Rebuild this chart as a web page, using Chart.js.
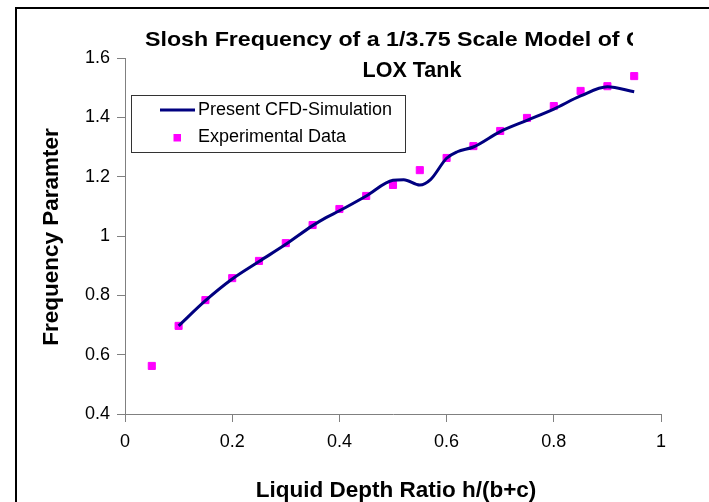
<!DOCTYPE html>
<html>
<head>
<meta charset="utf-8">
<script src="https://cdn.jsdelivr.net/npm/chart.js@4/dist/chart.umd.min.js"></script>
<style>
html,body{margin:0;padding:0;background:#fff;}
canvas{display:block;}
</style>
</head>
<body>
<canvas id="c" width="709" height="502" style="width:709px;height:502px"></canvas>
<script>
// Experimental data (squares)
const expX = [0.05,0.10,0.15,0.20,0.25,0.30,0.35,0.40,0.45,0.50,0.55,0.60,0.65,0.70,0.75,0.80,0.85,0.90,0.95];
const expY = [0.562,0.697,0.784,0.858,0.916,0.976,1.037,1.091,1.135,1.172,1.222,1.263,1.303,1.354,1.398,1.438,1.489,1.505,1.539];
// CFD simulation curve
const cfdX = [0.10,0.15,0.20,0.25,0.30,0.35,0.375,0.40,0.45,0.50,0.52,0.55,0.57,0.60,0.62,0.65,0.70,0.75,0.80,0.85,0.90,0.95];
const cfdY = [0.697,0.782,0.855,0.914,0.972,1.035,1.062,1.085,1.135,1.188,1.19,1.172,1.19,1.262,1.284,1.300,1.352,1.390,1.428,1.472,1.503,1.486];
// Axis ticks
const xTicks = [0,0.2,0.4,0.6,0.8,1];
const xTickLabels = ["0","0.2","0.4","0.6","0.8","1"];
const yTicks = [0.4,0.6,0.8,1.0,1.2,1.4,1.6];
const yTickLabels = ["0.4","0.6","0.8","1","1.2","1.4","1.6"];
// Texts
const titleLine1 = "Slosh Frequency of a 1/3.75 Scale Model of C";
const titleLine2 = "LOX Tank";
const xTitle = "Liquid Depth Ratio h/(b+c)";
const yTitle = "Frequency Paramter";
const seriesNames = ["Present CFD-Simulation","Experimental Data"];

const FONT = "'Liberation Sans', Arial, sans-serif";
const AXIS = '#808080';

function labelFor(v, ticks, labels){
  for (let i=0;i<ticks.length;i++){ if (Math.abs(ticks[i]-v)<1e-6) return labels[i]; }
  return '';
}

const deco = {
  id:'deco',
  afterDraw(chart){
    const ctx = chart.ctx;
    ctx.save();
    // outer frame
    ctx.strokeStyle = '#000'; ctx.lineWidth = 2;
    ctx.beginPath();
    ctx.moveTo(16, 520); ctx.lineTo(16, 8); ctx.lineTo(720, 8);
    ctx.stroke();
    // title line 1 (clipped on the right, as in the reference)
    ctx.fillStyle = '#000';
    ctx.font = "bold 21px " + FONT;
    ctx.textBaseline = 'middle';
    ctx.save();
    ctx.beginPath(); ctx.rect(0,0,633,60); ctx.clip();
    ctx.textAlign = 'left';
    const pre = titleLine1.slice(0, -1);
    const w = ctx.measureText(pre).width;
    const sx = (626 - 145) / w;
    ctx.translate(145, 40);
    ctx.scale(sx, 1);
    ctx.fillText(titleLine1, 0, 0);
    ctx.restore();
    ctx.textAlign = 'center';
    ctx.font = "bold 21.5px " + FONT;
    ctx.fillText(titleLine2, 412, 71);
    // axis titles
    ctx.font = "bold 22.5px " + FONT;
    ctx.fillText(xTitle, 396, 491);
    ctx.save();
    ctx.translate(52, 237);
    ctx.rotate(-Math.PI/2);
    ctx.fillText(yTitle, 0, 0);
    ctx.restore();
    // legend
    ctx.fillStyle = '#fff';
    ctx.fillRect(131.5, 95.5, 274, 57);
    ctx.strokeStyle = '#333'; ctx.lineWidth = 1;
    ctx.strokeRect(131.5, 95.5, 274, 57);
    ctx.strokeStyle = '#000080'; ctx.lineWidth = 3;
    ctx.beginPath(); ctx.moveTo(160, 110); ctx.lineTo(195, 110); ctx.stroke();
    ctx.fillStyle = '#FF00FF';
    ctx.fillRect(173.5, 134, 7.5, 7.5);
    ctx.fillStyle = '#000';
    ctx.font = "18px " + FONT;
    ctx.textAlign = 'left';
    ctx.fillText(seriesNames[0], 198, 110);
    ctx.fillText(seriesNames[1], 198, 137);
    ctx.restore();
  }
};

new Chart(document.getElementById('c'), {
  type: 'scatter',
  data: {
    datasets: [
      {
        label: seriesNames[0],
        data: cfdX.map((x,i)=>({x:x, y:cfdY[i]})),
        showLine: true,
        borderColor: '#000080',
        borderWidth: 3,
        pointRadius: 0,
        cubicInterpolationMode: 'monotone',
        fill: false
      },
      {
        label: seriesNames[1],
        data: expX.map((x,i)=>({x:x, y:expY[i]})),
        showLine: false,
        pointStyle: 'rect',
        pointRadius: 5,
        backgroundColor: '#FF00FF',
        borderColor: '#FF00FF',
        borderWidth: 1
      }
    ]
  },
  options: {
    responsive: false,
    animation: false,
    layout: { padding: { left: 0, right: 48, top: 58, bottom: 0 } },
    plugins: { legend: { display: false }, tooltip: { enabled: false }, title: { display: false } },
    scales: {
      x: {
        type: 'linear', min: 0, max: 1,
        afterBuildTicks(s){ s.ticks = xTicks.map(v=>({value:v})); },
        afterFit(s){ s.height = 88; },
        ticks: { color: '#000', font: { family: FONT, size: 18 }, padding: 9, maxRotation: 0,
                 callback: v => labelFor(v, xTicks, xTickLabels) },
        grid: { drawOnChartArea: false, drawTicks: true, tickLength: 8, color: AXIS },
        border: { color: AXIS, width: 1 }
      },
      y: {
        type: 'linear', min: 0.4, max: 1.6,
        afterBuildTicks(s){ s.ticks = yTicks.map(v=>({value:v})); },
        afterFit(s){ s.width = 125; },
        ticks: { color: '#000', font: { family: FONT, size: 18 }, padding: 7,
                 callback: v => labelFor(v, yTicks, yTickLabels) },
        grid: { drawOnChartArea: false, drawTicks: true, tickLength: 8, color: AXIS },
        border: { color: AXIS, width: 1 }
      }
    }
  },
  plugins: [deco]
});
</script>
</body>
</html>
